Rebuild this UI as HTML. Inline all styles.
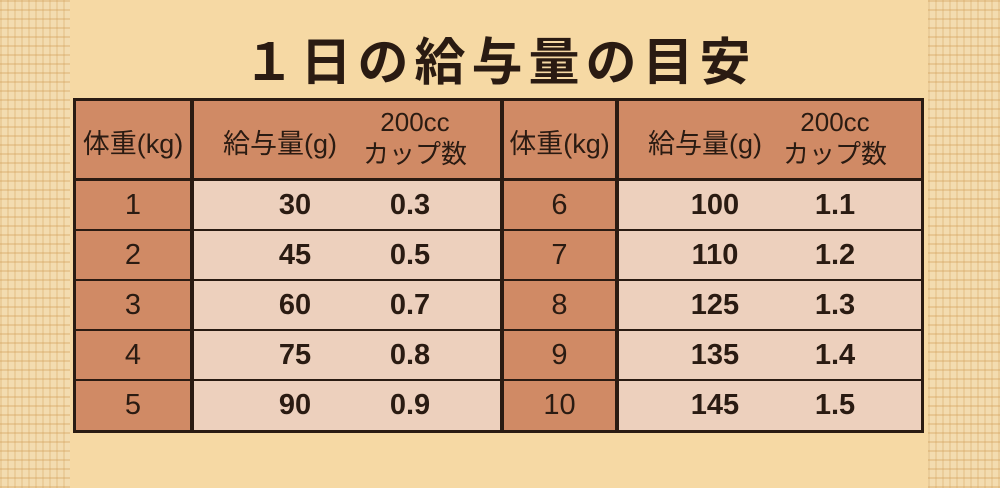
<!DOCTYPE html>
<html><head><meta charset="utf-8"><style>
body{margin:0;width:1000px;height:488px;overflow:hidden;background:#f6d9a4;position:relative;font-family:"Liberation Sans","Noto Sans CJK JP",sans-serif;color:#2a1b12}
.strip{position:absolute;top:0;height:488px;width:70px;background:#f3dcb0;
background-image:repeating-linear-gradient(0deg,rgba(210,160,90,.35) 0 2px,transparent 2px 9px),repeating-linear-gradient(90deg,rgba(210,160,90,.25) 0 2px,transparent 2px 7px)}
.t{position:absolute;text-align:center}
.c{position:absolute}
</style></head><body>
<div class="strip" style="left:0"></div>
<div class="strip" style="left:928px;width:72px"></div>
<div class="t" style="left:0;width:1000px;top:21px;font-size:51px;font-weight:bold;letter-spacing:6px;color:#2a1b12">１日の給与量の目安</div>
<div class="c" style="left:73px;top:98px;width:851px;height:335px;background:#2a1b12"></div>
<div class="c" style="left:76px;top:101px;width:114px;height:77px;background:#d08a65"></div>
<div class="c" style="left:194px;top:101px;width:306px;height:77px;background:#d08a65"></div>
<div class="c" style="left:504px;top:101px;width:111px;height:77px;background:#d08a65"></div>
<div class="c" style="left:619px;top:101px;width:302px;height:77px;background:#d08a65"></div>
<div class="t" style="left:76px;width:114px;top:122px;font-size:27px">体重(kg)</div>
<div class="t" style="left:210px;width:140px;top:122px;font-size:27px">給与量(g)</div>
<div class="t" style="left:360px;width:110px;top:106px;font-size:26px;line-height:32px">200cc<br>カップ数</div>
<div class="t" style="left:504px;width:111px;top:122px;font-size:27px">体重(kg)</div>
<div class="t" style="left:635px;width:140px;top:122px;font-size:27px">給与量(g)</div>
<div class="t" style="left:780px;width:110px;top:106px;font-size:26px;line-height:32px">200cc<br>カップ数</div>
<div id="rows"></div>
<script>
var d=[[1,30,"0.3",6,100,"1.1"],[2,45,"0.5",7,110,"1.2"],[3,60,"0.7",8,125,"1.3"],[4,75,"0.8",9,135,"1.4"],[5,90,"0.9",10,145,"1.5"]];
var h="";
d.forEach(function(r,i){var y=181+i*50;var hh=(i==4)?49:48;
h+='<div class="c" style="left:76px;top:'+y+'px;width:114px;height:'+hh+'px;background:#d08a65"></div>';
h+='<div class="c" style="left:194px;top:'+y+'px;width:306px;height:'+hh+'px;background:#edd0bd"></div>';
h+='<div class="c" style="left:504px;top:'+y+'px;width:111px;height:'+hh+'px;background:#d08a65"></div>';
h+='<div class="c" style="left:619px;top:'+y+'px;width:302px;height:'+hh+'px;background:#edd0bd"></div>';
var ty=y+8;
h+='<div class="t" style="left:76px;width:114px;top:'+ty+'px;font-size:29px">'+r[0]+'</div>';
h+='<div class="t" style="left:250px;width:90px;top:'+ty+'px;font-size:29px;font-weight:bold">'+r[1]+'</div>';
h+='<div class="t" style="left:370px;width:80px;top:'+ty+'px;font-size:29px;font-weight:bold">'+r[2]+'</div>';
h+='<div class="t" style="left:504px;width:111px;top:'+ty+'px;font-size:29px">'+r[3]+'</div>';
h+='<div class="t" style="left:670px;width:90px;top:'+ty+'px;font-size:29px;font-weight:bold">'+r[4]+'</div>';
h+='<div class="t" style="left:795px;width:80px;top:'+ty+'px;font-size:29px;font-weight:bold">'+r[5]+'</div>';
});
document.getElementById("rows").innerHTML=h;
</script>
</body></html>
